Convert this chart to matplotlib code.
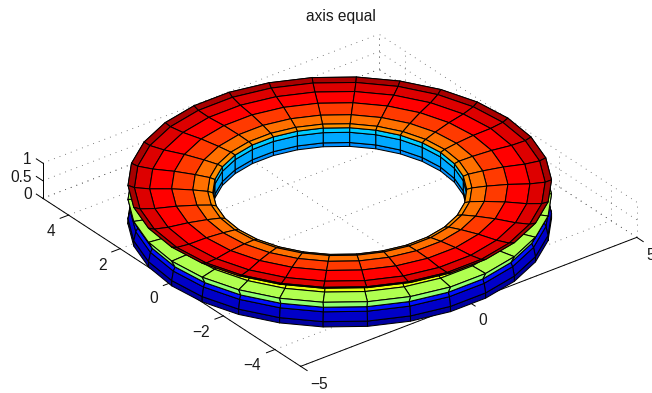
import numpy as np
import matplotlib
matplotlib.use('Agg')
import matplotlib.pyplot as plt
from mpl_toolkits.mplot3d import proj3d
from mpl_toolkits.mplot3d.art3d import Poly3DCollection

plt.rcParams['font.family'] = ['Liberation Sans', 'DejaVu Sans']

# ring cross section: outer wall, top, inner wall
outer_radius = [5, 5, 4.95, 4.9, 5, 4.55, 4.2, 5]
outer_height = [-0.1, 0.05, 0.3, 0.4, 0.6, 0.62, 0.75, 1.0]
outer_colors = ['#0000a0', '#0000c8', '#0010ff', '#90ff70', '#b0ff50', '#e8ff10', '#a80000']
top_radius = [5, 4.85, 4.49, 3.97, 3.47, 3.12, 3.0]
top_height = [1.0, 0.935, 0.894, 0.886, 0.846, 0.80, 0.76]
top_colors = ['#a80000', '#dd0000', '#ff0000', '#ff3a00', '#ff7000', '#ff9000']
inner_radius = [3.0, 3.0, 3.0, 3.0]
inner_height = [0.76, 0.63, 0.34, 0.23]
inner_colors = ['#00ccff', '#00a8ff', '#0090ff']
angle_deg = list(range(0, 361, 12))

x_ticks = [-5, 0, 5]
y_ticks = [-4, -2, 0, 2, 4]
z_ticks = [0, 0.5, 1]
z_tick_labels = ['0', '0.5', '1']
title = 'axis equal'


def tick_text(v):
    return str(v).replace('-', '\u2212')


def ring_band(radius, height, colors, zorder):
    # one flat colour per row of facets
    u = np.radians(angle_deg)
    polys = []
    cols = []
    for i in range(len(radius) - 1):
        for j in range(len(u) - 1):
            rr = np.array([radius[i], radius[i], radius[i + 1], radius[i + 1]])
            uu = np.array([u[j], u[j + 1], u[j + 1], u[j]])
            zz = [height[i], height[i], height[i + 1], height[i + 1]]
            polys.append(np.c_[rr * np.cos(uu), rr * np.sin(uu), zz])
            cols.append(colors[i])
    return Poly3DCollection(polys, facecolors=cols, edgecolors='k', linewidths=0.75, zorder=zorder)


def project(x, y, z):
    xs, ys, _ = proj3d.proj_transform(np.array(x, float), np.array(y, float), np.array(z, float), ax.get_proj())
    return xs, ys


fig = plt.figure(figsize=(6.52, 3.93), dpi=100)
# square axes centred on the middle of the box
size = 760
cx, cy = 329.5, 210.5
ax = fig.add_axes([(cx - size / 2) / 652, (393 - cy - size / 2) / 393, size / 652, size / 393],
                  projection='3d', computed_zorder=False)
ax.set_proj_type('ortho')
ax.view_init(elev=30, azim=-127.5)
ax.set_xlim(-5, 5, view_margin=0)
ax.set_ylim(-5, 5, view_margin=0)
ax.set_zlim(0, 1, view_margin=0)
ax.set_xticks([])
ax.set_yticks([])
ax.set_zticks([])
ax.set_axis_off()
ax.patch.set_alpha(0)
aspect = (10, 10, 0.96)
ax.set_box_aspect(aspect)
ax.set_autoscale_on(False)

# dotted grid on floor and the two back walls
grid = dict(color='#555555', lw=0.6, ls=(0, (1, 6.2)), zorder=1)
for v in x_ticks:
    ax.plot([v, v], [-5, 5], [0, 0], **grid)
    ax.plot([v, v], [5, 5], [0, 1], **grid)
for v in y_ticks + [-5, 5]:
    ax.plot([-5, 5], [v, v], [0, 0], **grid)
    ax.plot([5, 5], [v, v], [0, 1], **grid)
for v in z_ticks:
    ax.plot([-5, 5], [5, 5], [v, v], **grid)
    ax.plot([5, 5], [-5, 5], [v, v], **grid)

# axis lines and ticks
solid = dict(color='k', lw=0.7, zorder=2)
ax.plot([-5, 5], [-5, -5], [0, 0], **solid)
ax.plot([-5, -5], [-5, 5], [0, 0], **solid)
ax.plot([-5, -5], [5, 5], [0, 1], **solid)
for v in x_ticks:
    ax.plot([v, v], [-5, -5.25], [0, 0], **solid)
for v in y_ticks:
    ax.plot([-5, -5.25], [v, v], [0, 0], **solid)
for v in z_ticks:
    ax.plot([-5, -5], [5, 5.25], [v, v], **solid)

# lower parts first, the top always stays in front of them
ax.add_collection3d(ring_band(outer_radius, outer_height, outer_colors, 3))
ax.add_collection3d(ring_band(inner_radius, inner_height, inner_colors, 3))
ax.add_collection3d(ring_band(top_radius, top_height, top_colors, 4))

# scale the box so that its corners land where they should
fig.canvas.draw()
xs, ys = project([5, -5], [-5, 5], [0, 0])
pts = ax.transData.transform(np.c_[xs, ys])
ax.set_box_aspect(aspect, zoom=594 / (pts[0, 0] - pts[1, 0]))
fig.canvas.draw()

# tick labels go in as plain 2d text at the projected spot
label_style = dict(va='center', fontsize=11.2, color='#1a1a1a')
for v in x_ticks:
    px, py = project(v - 0.35, -5.82, 0)
    ax.text2D(px, py, tick_text(v), ha='left', transform=ax.transData, **label_style)
for v in y_ticks:
    px, py = project(-5.725, v - 0.416, 0)
    ax.text2D(px, py, tick_text(v), ha='right', transform=ax.transData, **label_style)
for v, lab in zip(z_ticks, z_tick_labels):
    px, py = project(-5.106, 5.287, v)
    ax.text2D(px, py, lab, ha='right', transform=ax.transData, **label_style)

fig.text(341 / 652, 1 - 16 / 393, title, ha='center', va='center', fontsize=11.2, color='#1a1a1a')

fig.savefig('out.png', dpi=100)
